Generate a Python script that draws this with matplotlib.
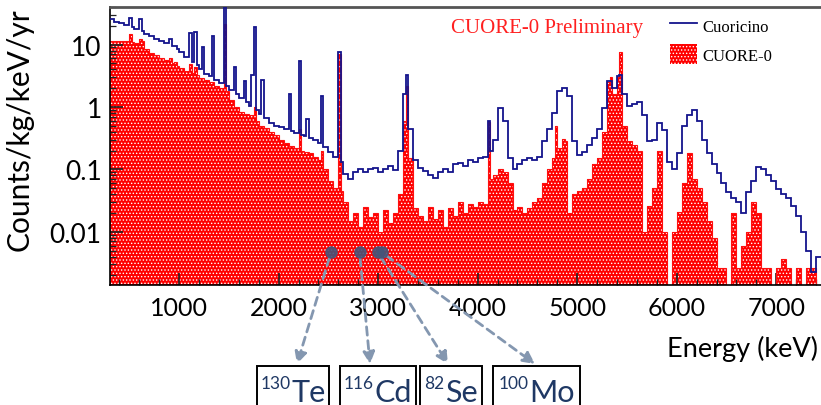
import numpy as np
import matplotlib
matplotlib.use('Agg')
import matplotlib.pyplot as plt
from matplotlib.lines import Line2D
from matplotlib.patches import Patch, Rectangle
from matplotlib.ticker import MultipleLocator, LogLocator, NullFormatter

# 50 keV bins starting at 300 keV (one row = 500 keV)
bin_start = 300
bin_width = 50

cuoricino = [
    26, 23, 22, 20.5, 19, 18, 16.5, 15, 13.5, 12.5,
    11.2, 10.5, 9.6, 8.6, 7.6, 6.3, 5.3, 4.7, 4.0, 3.4,
    3.1, 2.7, 2.45, 2.2, 1.9, 1.6, 1.38, 1.2, 1.02, 0.88,
    0.76, 0.66, 0.56, 0.5, 0.47, 0.44, 0.41, 0.38, 0.36, 0.34,
    0.32, 0.29, 0.26, 0.23, 0.19, 0.16, 0.13, 0.085, 0.07, 0.09,
    0.1, 0.092, 0.1, 0.106, 0.09, 0.1, 0.112, 0.098, 0.2, 1.6,
    0.45, 0.14, 0.105, 0.095, 0.08, 0.072, 0.09, 0.1, 0.092, 0.12,
    0.125, 0.115, 0.14, 0.13, 0.15, 0.16, 0.2, 0.3, 0.95, 0.6,
    0.15, 0.1, 0.12, 0.14, 0.15, 0.14, 0.16, 0.28, 0.45, 0.8,
    1.8, 2.0, 1.5, 0.28, 0.17, 0.19, 0.25, 0.32, 0.45, 0.95,
    2.6, 2.0, 3.1, 1.6, 1.05, 1.1, 1.2, 0.75, 0.28, 0.3,
    0.55, 0.42, 0.13, 0.1, 0.18, 0.5, 0.75, 0.88, 0.6, 0.3,
    0.18, 0.12, 0.086, 0.06, 0.044, 0.035, 0.03, 0.02, 0.044, 0.064,
    0.11, 0.1, 0.08, 0.064, 0.049, 0.04, 0.035, 0.026, 0.018, 0.01,
    0.005, 0.0023, 0.004,
]

cuore0 = [
    11.5, 11.5, 11.3, 11.4, 11.0, 10.5, 11.5, 8.6, 7.3, 6.8,
    6.2, 5.6, 5.0, 4.6, 4.2, 3.8, 3.5, 3.2, 2.9, 2.7,
    2.5, 2.2, 2.0, 1.8, 1.3, 1.0, 0.82, 0.78, 0.73, 0.6,
    0.5, 0.46, 0.4, 0.36, 0.3, 0.26, 0.24, 0.22, 0.2, 0.19,
    0.18, 0.16, 0.14, 0.1, 0.065, 0.05, 0.045, 0.03, 0.015, 0.02,
    0.012, 0.025, 0.017, 0.02, 0.01, 0.022, 0.014, 0.02, 0.04, 0.6,
    0.15, 0.024, 0.018, 0.015, 0.025, 0.016, 0.022, 0.012, 0.024, 0.018,
    0.03, 0.02, 0.028, 0.025, 0.03, 0.028, 0.07, 0.08, 0.1, 0.09,
    0.06, 0.022, 0.025, 0.02, 0.024, 0.03, 0.035, 0.06, 0.1, 0.15,
    0.22, 0.28, 0.02, 0.04, 0.045, 0.05, 0.07, 0.12, 0.15, 0.4,
    2.5, 1.6, 3.0, 0.5, 0.28, 0.25, 0.2, 0.01, 0.026, 0.05,
    0.2, 0.01, 1e-4, 0.01, 0.021, 0.06, 0.18, 0.07, 0.05, 0.03,
    0.015, 0.008, 0.0026, 0.0026, 1e-4, 0.02, 0.0026, 0.006, 0.01, 0.03,
    0.02, 0.0026, 0.0026, 1e-4, 0.0026, 0.0037, 0.0026, 1e-4, 0.0026, 1e-4,
    0.0026, 0.0026, 1e-4,
]

# narrow gamma / alpha lines (energy keV, height)
cuoricino_lines = [(511, 27), (609, 26), (911, 12.5), (969, 9.5), (1120, 15.5),
                   (1173, 16), (1238, 9), (1332, 13.5), (1460, 45), (1572, 4.4),
                   (1662, 2.6), (1730, 3.2), (1764, 19), (1847, 2.7), (2118, 1.6),
                   (2204, 5.5), (2293, 0.65), (2448, 1.5), (2615, 7.7), (3295, 3.3),
                   (4100, 0.6), (5345, 2.65), (5445, 3.2)]
cuore0_lines = [(511, 14.5), (609, 12.5), (911, 6.0), (969, 5.2), (1120, 4.8),
                (1173, 4.4), (1460, 21), (1764, 1.0), (2204, 0.45), (2448, 0.2),
                (2615, 7.0), (3295, 2.2), (4100, 0.58), (4795, 0.5), (4870, 0.31),
                (5330, 3.0), (5425, 7.7)]

isotopes = ['Te', 'Cd', 'Se', 'Mo']
masses = ['130', '116', '82', '100']
q_values = [2527, 2813, 2995, 3034]
q_marker_y = 0.0047


def fine_hist(coarse, lines, sub=2):
    vals = np.repeat(np.array(coarse, dtype=float), sub)
    w = bin_width / sub
    for e, h in lines:
        i = int((e - bin_start) // w)
        vals[i] = max(vals[i], h)
    edges = bin_start + w * np.arange(len(vals) + 1)
    return vals, edges


plt.rcParams['font.family'] = ['Lato', 'DejaVu Sans']
plt.rcParams['hatch.linewidth'] = 0.6
plt.rcParams['hatch.color'] = 'white'

W, H = 821, 406
fig = plt.figure(figsize=(W / 100, H / 100), dpi=100)
ax = fig.add_axes([110 / W, 1 - 286 / H, 711 / W, 278 / H])

red_vals, edges = fine_hist(cuore0, cuore0_lines)
blue_vals, _ = fine_hist(cuoricino, cuoricino_lines)

ax.stairs(red_vals, edges, fill=True, baseline=1e-5, facecolor='#ff0000',
          edgecolor='white', hatch='.....', linewidth=0, zorder=1)
ax.stairs(red_vals, edges, baseline=None, color='#ff1010', lw=0.8, zorder=2)
ax.stairs(blue_vals, edges, baseline=None, color='#14148c', lw=1.3, zorder=3)

ax.set_yscale('log')
ax.set_xlim(305, 7450)
ax.set_ylim(0.0014, 40)

ax.set_xticks(range(1000, 7001, 1000))
ax.xaxis.set_minor_locator(MultipleLocator(200))
ax.set_yticks([0.01, 0.1, 1, 10], ['0.01', '0.1', '1', '10'])
ax.yaxis.set_minor_locator(LogLocator(subs=np.arange(2, 10)))
ax.yaxis.set_minor_formatter(NullFormatter())
ax.tick_params(which='both', direction='in', top=False, right=False, color='#222222')
ax.tick_params(which='major', length=9, width=1.2)
ax.tick_params(which='minor', length=4.5, width=0.9)
ax.tick_params(axis='x', labelsize=18, pad=8)
ax.tick_params(axis='y', labelsize=19, pad=6)

ax.spines['right'].set_visible(False)
ax.spines['top'].set_color('#555555')
ax.spines['top'].set_linewidth(2)
for s in ['left', 'bottom']:
    ax.spines[s].set_linewidth(1.2)

ax.set_ylabel('Counts/kg/keV/yr', fontsize=21.5)
ax.yaxis.set_label_coords(-0.108, 0.561)
fig.text(818 / W, 1 - 349 / H, 'Energy (keV)', fontsize=19.5, ha='right', va='center')

fig.text(547 / W, 1 - 28 / H, 'CUORE-0 Preliminary', family='Liberation Serif',
         fontsize=15, color='#ff2020', ha='center', va='center')

handles = [Line2D([], [], color='#14148c', lw=1.3),
           Patch(facecolor='#ff0000', edgecolor='white', hatch='.....', linewidth=0)]
leg = ax.legend(handles, ['Cuoricino', 'CUORE-0'], loc='upper left',
                bbox_to_anchor=(662 / W, 1 - 8 / H), bbox_transform=fig.transFigure,
                frameon=False, prop={'family': 'Liberation Serif', 'size': 12},
                borderpad=0, handlelength=1.6, handleheight=1.45,
                handletextpad=0.35, labelspacing=0.55)

# Q-value markers and arrows to the isotope boxes
ax.plot(q_values, [q_marker_y] * len(q_values), 'o', color='#46557a', ms=8,
        alpha=0.9, zorder=5)
arrow_tip_x = [297, 370, 448, 535]
box_left = [257, 340, 420, 493]
box_right = [329, 416, 482, 580]
box_top = 367
for q, tx in zip(q_values, arrow_tip_x):
    ax.annotate('', xy=(tx / W, 1 - 365 / H), xycoords='figure fraction',
                xytext=(q, q_marker_y), textcoords='data', annotation_clip=False,
                arrowprops=dict(arrowstyle='-|>,head_length=0.7,head_width=0.35',
                                color='#8497b0', lw=2, linestyle=(0, (3, 2)),
                                shrinkA=4, shrinkB=0))

renderer = fig.canvas.get_renderer()
for x0, x1, iso, m in zip(box_left, box_right, isotopes, masses):
    fig.add_artist(Rectangle((x0 / W, 1 - (box_top + 60) / H), (x1 - x0) / W, 60 / H,
                             transform=fig.transFigure, fc='white', ec='black', lw=1.4))
    t_num = fig.text(0, 1 - 389 / H, m, fontsize=12.5, color='#1f3864', va='baseline')
    t_el = fig.text(0, 1 - 402 / H, iso, fontsize=22, color='#1f3864', va='baseline')
    w_num = t_num.get_window_extent(renderer).width
    w_el = t_el.get_window_extent(renderer).width
    start = (x0 + x1) / 2 - (w_num + w_el + 1) / 2
    t_num.set_x(start / W)
    t_el.set_x((start + w_num + 1) / W)

fig.savefig('out.png', dpi=100)
